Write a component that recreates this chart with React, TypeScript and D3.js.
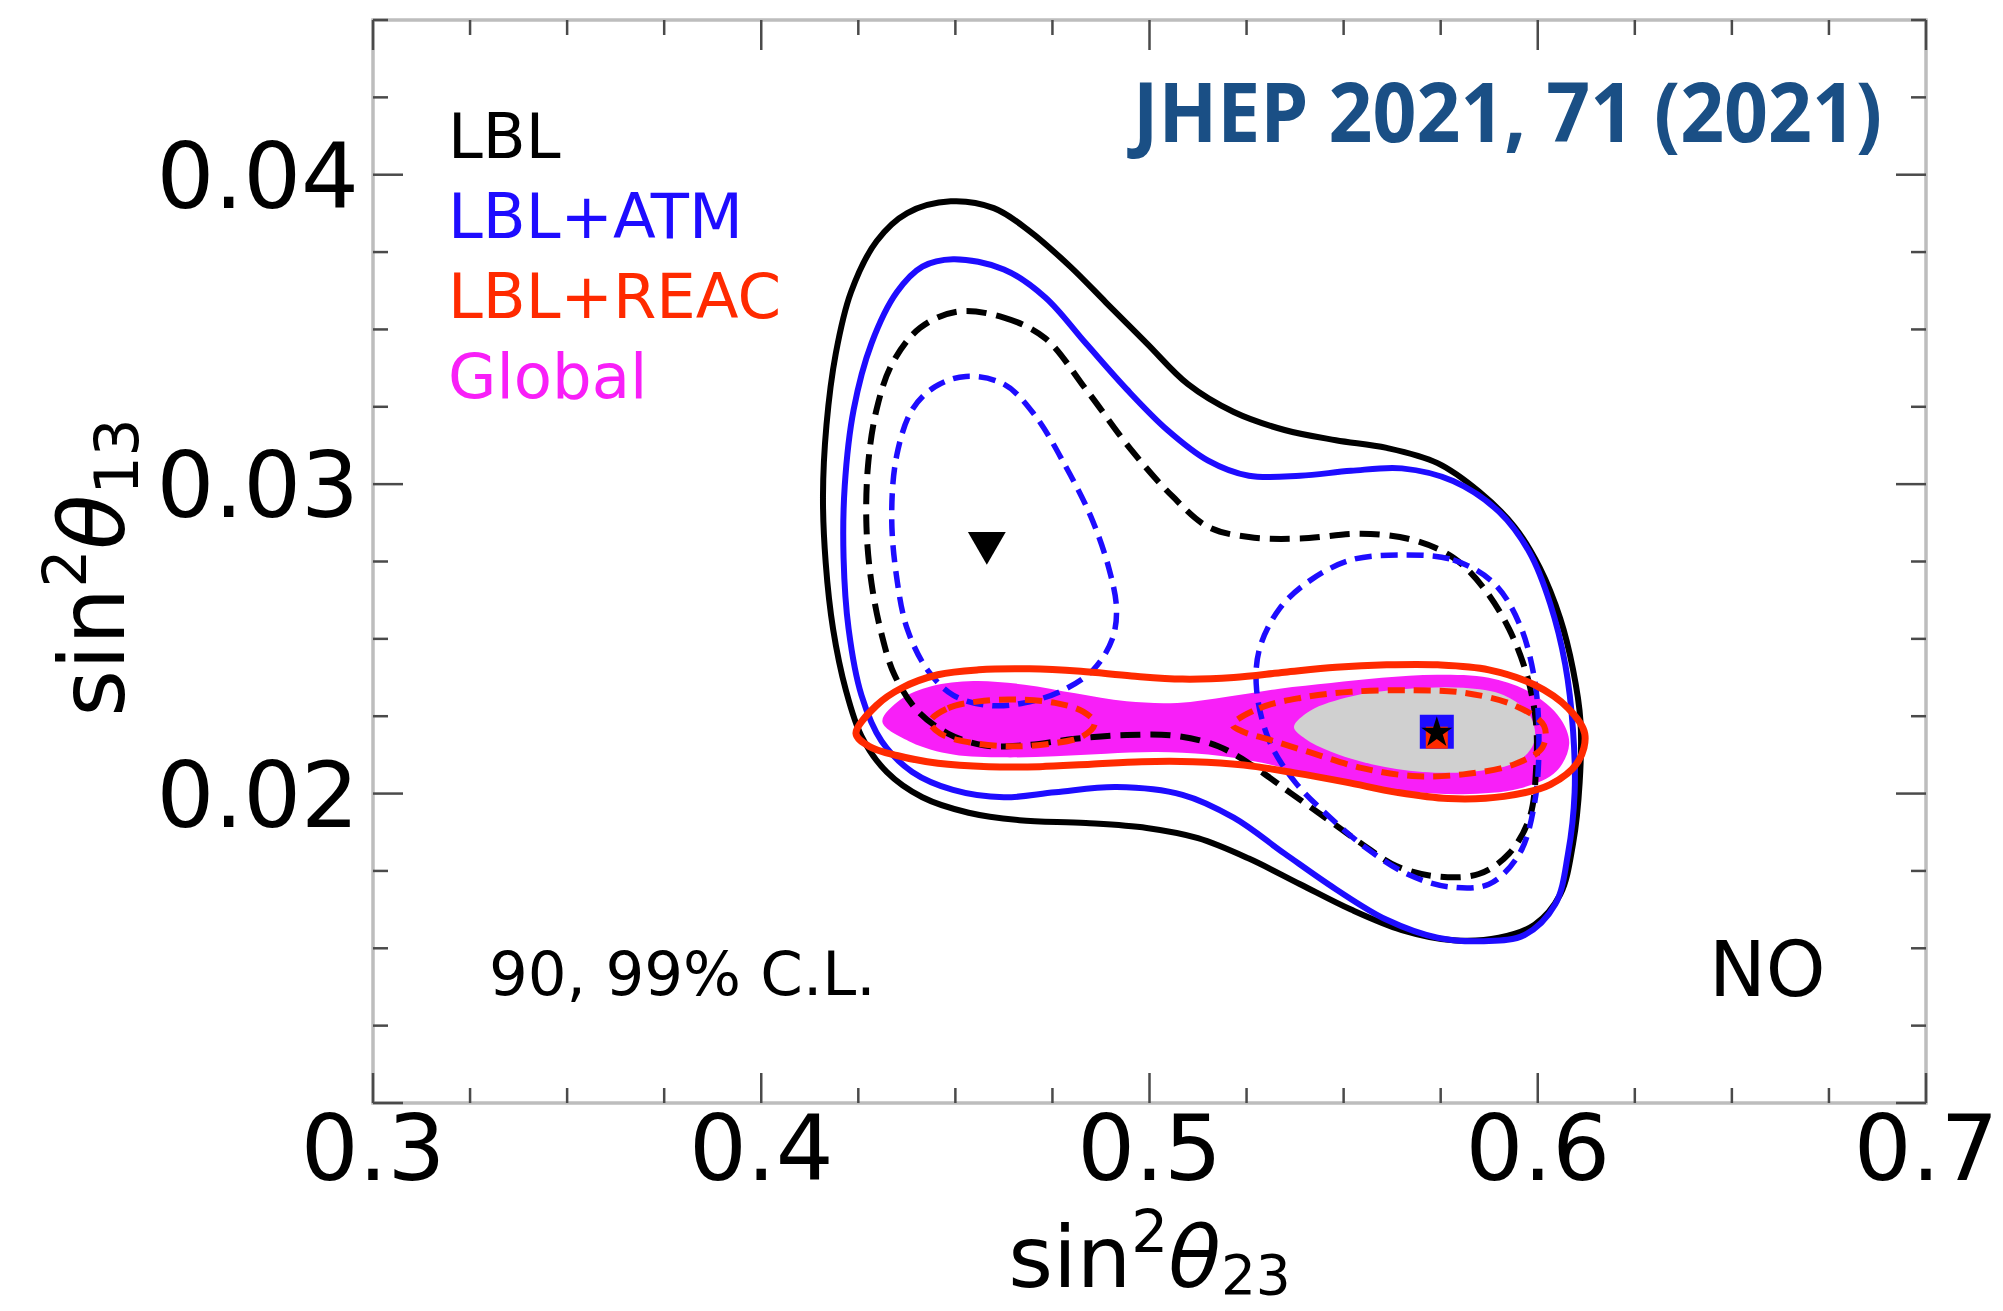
import React from 'react';
import * as d3 from 'd3';

type Pt = [number, number];

// Axis ranges and labelled ticks (sin^2 theta23 on x, sin^2 theta13 on y)
const xDomain: [number, number] = [0.3, 0.7];
const yDomain: [number, number] = [0.01, 0.045];
const xTickLabels = [0.3, 0.4, 0.5, 0.6, 0.7];
const yTickLabels = [0.02, 0.03, 0.04];
const yMajorTicks = [0.01, 0.02, 0.03, 0.04];

// LBL only, 99% C.L. (solid black)
const lbl99: Pt[] = [
  [0.4488, 0.03914], [0.4599, 0.03892], [0.4691, 0.03818], [0.4796, 0.03703], [0.4888, 0.03587],
  [0.4993, 0.03455], [0.5099, 0.03323], [0.5217, 0.03233], [0.5348, 0.03175], [0.548, 0.03142],
  [0.5611, 0.03117], [0.5742, 0.03068], [0.5848, 0.02977], [0.594, 0.02862], [0.6005, 0.0273],
  [0.6058, 0.02565], [0.6091, 0.024], [0.611, 0.02235], [0.6108, 0.02037], [0.6091, 0.01839],
  [0.6058, 0.01674], [0.5992, 0.01576], [0.59, 0.01534], [0.5782, 0.01526], [0.565, 0.01559],
  [0.5519, 0.01625], [0.5388, 0.01707], [0.5256, 0.0179], [0.5125, 0.01856], [0.4993, 0.01889],
  [0.4836, 0.01905], [0.4665, 0.01914], [0.4534, 0.01938], [0.4415, 0.01988], [0.4323, 0.0207],
  [0.4258, 0.02186], [0.4218, 0.02334], [0.4185, 0.02532], [0.4166, 0.02746], [0.4159, 0.02961],
  [0.4168, 0.03191], [0.4192, 0.03422], [0.4231, 0.0362], [0.4297, 0.03785], [0.4376, 0.03876],
];

// LBL only, 90% C.L. (dashed black)
const lbl90: Pt[] = [
  [0.4507, 0.03558], [0.4625, 0.03538], [0.4731, 0.03472], [0.4836, 0.03307], [0.4954, 0.03109],
  [0.5059, 0.02961], [0.5151, 0.02862], [0.5256, 0.02829], [0.5388, 0.02824], [0.5545, 0.0284],
  [0.5677, 0.0282], [0.5782, 0.02763], [0.5861, 0.02664], [0.5926, 0.02532], [0.5972, 0.02383],
  [0.5995, 0.02235], [0.5996, 0.02087], [0.5979, 0.01922], [0.5926, 0.01806], [0.5848, 0.0174],
  [0.5742, 0.01732], [0.5637, 0.01765], [0.5545, 0.01839], [0.5453, 0.01922], [0.5361, 0.02004],
  [0.5269, 0.02087], [0.5177, 0.02153], [0.5072, 0.02186], [0.4941, 0.02189], [0.4809, 0.02177],
  [0.4678, 0.02156], [0.4573, 0.02156], [0.4481, 0.02194], [0.4402, 0.02268], [0.4343, 0.02384],
  [0.431, 0.02515], [0.4284, 0.0268], [0.4271, 0.02862], [0.4275, 0.0306], [0.4297, 0.03241],
  [0.4337, 0.03389], [0.4409, 0.03505],
];

// LBL+ATM, 99% C.L. (solid blue)
const atm99: Pt[] = [
  [0.4494, 0.03727], [0.4625, 0.03694], [0.4731, 0.03604], [0.4836, 0.03455], [0.4941, 0.03307],
  [0.5046, 0.03175], [0.5151, 0.03076], [0.5256, 0.03027], [0.5388, 0.03027], [0.5519, 0.03043],
  [0.565, 0.03051], [0.5782, 0.0301], [0.59, 0.02911], [0.5979, 0.02779], [0.6032, 0.02614],
  [0.6071, 0.02416], [0.6091, 0.02202], [0.6095, 0.02004], [0.6078, 0.01806], [0.6045, 0.01642],
  [0.5966, 0.01543], [0.5861, 0.01523], [0.5742, 0.01534], [0.5611, 0.01592], [0.548, 0.01691],
  [0.5348, 0.01806], [0.5217, 0.01922], [0.5085, 0.01996], [0.4915, 0.02021], [0.4757, 0.02004],
  [0.4625, 0.01988], [0.4494, 0.02012], [0.4389, 0.0207], [0.431, 0.02169], [0.4258, 0.02318],
  [0.4225, 0.02532], [0.4212, 0.02763], [0.4215, 0.02994], [0.4238, 0.03241], [0.4284, 0.03455],
  [0.4349, 0.0362], [0.4415, 0.03703],
];

// LBL+ATM, 90% C.L. (dashed blue), lower octant island
const atm90Low: Pt[] = [
  [0.4527, 0.03348], [0.4625, 0.03323], [0.4704, 0.03224], [0.4783, 0.0306], [0.4849, 0.02895],
  [0.4895, 0.0273], [0.4915, 0.02598], [0.4904, 0.02499], [0.4855, 0.024], [0.4777, 0.02334],
  [0.4678, 0.02293], [0.4586, 0.02285], [0.4494, 0.02318], [0.4428, 0.024], [0.4376, 0.02532],
  [0.4349, 0.02697], [0.4336, 0.02895], [0.4349, 0.03093], [0.4389, 0.03241], [0.4448, 0.03315],
];

// LBL+ATM, 90% C.L. (dashed blue), upper octant island
const atm90High: Pt[] = [
  [0.565, 0.02771], [0.5782, 0.02755], [0.5887, 0.0268], [0.5953, 0.02548], [0.5992, 0.02367],
  [0.6003, 0.02169], [0.5992, 0.01971], [0.5953, 0.01806], [0.5874, 0.01707], [0.5769, 0.01699],
  [0.5664, 0.0174], [0.5559, 0.01823], [0.5466, 0.01922], [0.5375, 0.02037], [0.5309, 0.02169],
  [0.5276, 0.02334], [0.5283, 0.02466], [0.5335, 0.02598], [0.5414, 0.02689], [0.5519, 0.02755],
];

// LBL+REAC, 99% C.L. (solid red)
const reac99: Pt[] = [
  [0.4244, 0.02194], [0.4297, 0.02285], [0.4363, 0.02342], [0.4455, 0.02384], [0.456, 0.024],
  [0.4691, 0.02403], [0.4823, 0.02395], [0.4954, 0.0238], [0.5085, 0.0237], [0.5217, 0.02375],
  [0.5348, 0.02392], [0.548, 0.02408], [0.5611, 0.02416], [0.5742, 0.02416], [0.5874, 0.024],
  [0.5992, 0.02351], [0.6078, 0.02276], [0.6121, 0.02194], [0.6104, 0.02103], [0.6032, 0.02029],
  [0.5913, 0.01991], [0.5769, 0.01984], [0.5637, 0.02004], [0.5506, 0.02037], [0.5374, 0.02067],
  [0.5243, 0.02092], [0.5112, 0.02103], [0.498, 0.02103], [0.4849, 0.02095], [0.4717, 0.02087],
  [0.4586, 0.02087], [0.4455, 0.02098], [0.4349, 0.02123], [0.4277, 0.02153],
];

// LBL+REAC, 90% C.L. (dashed red), two islands
const reac90Low: Pt[] = [
  [0.4435, 0.02232], [0.4481, 0.02276], [0.456, 0.02298], [0.4652, 0.02304], [0.4757, 0.02293],
  [0.4829, 0.02265], [0.4859, 0.02227], [0.4829, 0.02186], [0.4744, 0.02161], [0.4639, 0.02153],
  [0.4534, 0.02166], [0.4461, 0.02194],
];
const reac90High: Pt[] = [
  [0.5214, 0.02222], [0.5283, 0.02276], [0.5388, 0.02309], [0.5519, 0.02329], [0.5677, 0.02334],
  [0.5808, 0.02326], [0.594, 0.02285], [0.6016, 0.02219], [0.6012, 0.02149], [0.594, 0.02095],
  [0.5808, 0.02062], [0.5677, 0.02057], [0.5545, 0.02083], [0.5414, 0.02133], [0.5309, 0.02174],
  [0.5237, 0.02202],
];

// Global fit, 99% C.L. (magenta region)
const global99: Pt[] = [
  [0.4312, 0.02232], [0.4358, 0.02303], [0.4438, 0.02347], [0.4547, 0.02364], [0.4678, 0.02352],
  [0.4809, 0.02324], [0.4941, 0.02298], [0.5072, 0.02293], [0.5204, 0.02314], [0.5335, 0.02339],
  [0.5467, 0.02357], [0.5598, 0.02374], [0.5742, 0.02384], [0.5874, 0.02374], [0.5979, 0.02328],
  [0.6058, 0.02243], [0.6081, 0.02161], [0.6048, 0.02072], [0.5953, 0.02016], [0.5808, 0.01998],
  [0.5677, 0.02006], [0.5545, 0.02029], [0.5414, 0.02062], [0.5283, 0.02101], [0.5151, 0.02126],
  [0.502, 0.02134], [0.4888, 0.02129], [0.4757, 0.02121], [0.4625, 0.02117], [0.4494, 0.02126],
  [0.4386, 0.02166],
];

// Global fit, 90% C.L. (grey region)
const global90: Pt[] = [
  [0.5372, 0.02215], [0.5414, 0.02268], [0.5519, 0.02314], [0.565, 0.02337], [0.5808, 0.02342],
  [0.5913, 0.02318], [0.5979, 0.02255], [0.5992, 0.02172], [0.5953, 0.02107], [0.5848, 0.02073],
  [0.5703, 0.0207], [0.5572, 0.02095], [0.5466, 0.02136], [0.5401, 0.02177],
];

// Best-fit points
const bestLBL: Pt = [0.4581, 0.0281];
const bestGlobal: Pt = [0.574, 0.022];

const legendItems = [
  { label: 'LBL', color: '#000000' },
  { label: 'LBL+ATM', color: '#1e0cff' },
  { label: 'LBL+REAC', color: '#ff2a00' },
  { label: 'Global', color: '#f81ff8' },
];

const W = 2003;
const H = 1311;
const plot = { left: 373, right: 1926, top: 20, bottom: 1103 };

const BLUE = '#1e0cff';
const RED = '#ff2a00';
const MAGENTA = '#f81ff8';
const GREY = '#d0d0d0';
const FRAME = '#bdbdbd';
const TICK = '#4a4a4a';
const FONT = "'DejaVu Sans', sans-serif";

export default function App() {
  const x = d3.scaleLinear().domain(xDomain).range([plot.left, plot.right]);
  const y = d3.scaleLinear().domain(yDomain).range([plot.bottom, plot.top]);

  const contour = d3
    .line<Pt>()
    .x((d) => x(d[0]))
    .y((d) => y(d[1]))
    .curve(d3.curveCatmullRomClosed.alpha(0.5));

  const xMinor = d3.range(0.3, 0.7001, 0.025).filter((v) => !xTickLabels.some((m) => Math.abs(m - v) < 1e-6));
  const yMinor = d3.range(0.01, 0.0451, 0.0025).filter((v) => !yMajorTicks.some((m) => Math.abs(m - v) < 1e-6));

  const majorLen = 30;
  const minorLen = 15;

  const tri = d3.symbol().type(d3.symbolTriangle).size(620)();
  const star = d3.symbol().type(d3.symbolStar).size(300)();
  const sq = d3.symbol().type(d3.symbolSquare).size(34 * 34)();
  const sqSmall = d3.symbol().type(d3.symbolSquare).size(22 * 22)();

  return (
    <svg
      width={W}
      height={H}
      viewBox={`0 0 ${W} ${H}`}
      style={{ position: 'absolute', left: 0, top: 0, background: '#ffffff' }}
    >
      <rect x={0} y={0} width={W} height={H} fill="#ffffff" />

      {/* confidence regions of the global fit */}
      <path d={contour(global99) ?? ''} fill={MAGENTA} stroke="none" />
      <path d={contour(global90) ?? ''} fill={GREY} stroke="none" />

      {/* LBL */}
      <path d={contour(lbl99) ?? ''} fill="none" stroke="#000" strokeWidth={6} />
      {/* LBL+ATM */}
      <path d={contour(atm99) ?? ''} fill="none" stroke={BLUE} strokeWidth={6} />
      <path d={contour(lbl90) ?? ''} fill="none" stroke="#000" strokeWidth={6} strokeDasharray="20 10" />
      <path d={contour(atm90Low) ?? ''} fill="none" stroke={BLUE} strokeWidth={5.5} strokeDasharray="17 9" />
      <path d={contour(atm90High) ?? ''} fill="none" stroke={BLUE} strokeWidth={5.5} strokeDasharray="17 9" />
      {/* LBL+REAC */}
      <path d={contour(reac99) ?? ''} fill="none" stroke={RED} strokeWidth={7} />
      <path d={contour(reac90Low) ?? ''} fill="none" stroke={RED} strokeWidth={6} strokeDasharray="17 9" />
      <path d={contour(reac90High) ?? ''} fill="none" stroke={RED} strokeWidth={6} strokeDasharray="17 9" />

      {/* best-fit markers */}
      <path d={tri ?? ''} transform={`translate(${x(bestLBL[0])},${y(bestLBL[1])}) rotate(180)`} fill="#000" />
      <path d={sq ?? ''} transform={`translate(${x(bestGlobal[0])},${y(bestGlobal[1])})`} fill={BLUE} />
      <path d={sqSmall ?? ''} transform={`translate(${x(bestGlobal[0])},${y(bestGlobal[1]) + 6})`} fill={RED} />
      <path d={star ?? ''} transform={`translate(${x(bestGlobal[0])},${y(bestGlobal[1]) + 1})`} fill="#000" />

      {/* frame */}
      <rect
        x={plot.left}
        y={plot.top}
        width={plot.right - plot.left}
        height={plot.bottom - plot.top}
        fill="none"
        stroke={FRAME}
        strokeWidth={3.5}
      />

      {/* x ticks, bottom and top, pointing inward */}
      {xTickLabels.map((v) => (
        <g key={`xM${v}`} stroke={TICK} strokeWidth={2.5}>
          <line x1={x(v)} x2={x(v)} y1={plot.bottom} y2={plot.bottom - majorLen} />
          <line x1={x(v)} x2={x(v)} y1={plot.top} y2={plot.top + majorLen} />
        </g>
      ))}
      {xMinor.map((v) => (
        <g key={`xm${v}`} stroke={TICK} strokeWidth={2.5}>
          <line x1={x(v)} x2={x(v)} y1={plot.bottom} y2={plot.bottom - minorLen} />
          <line x1={x(v)} x2={x(v)} y1={plot.top} y2={plot.top + minorLen} />
        </g>
      ))}
      {/* y ticks, left and right, pointing inward */}
      {yMajorTicks.map((v) => (
        <g key={`yM${v}`} stroke={TICK} strokeWidth={2.5}>
          <line x1={plot.left} x2={plot.left + majorLen} y1={y(v)} y2={y(v)} />
          <line x1={plot.right} x2={plot.right - majorLen} y1={y(v)} y2={y(v)} />
        </g>
      ))}
      {yMinor.map((v) => (
        <g key={`ym${v}`} stroke={TICK} strokeWidth={2.5}>
          <line x1={plot.left} x2={plot.left + minorLen} y1={y(v)} y2={y(v)} />
          <line x1={plot.right} x2={plot.right - minorLen} y1={y(v)} y2={y(v)} />
        </g>
      ))}

      {/* tick labels */}
      {xTickLabels.map((v) => (
        <text key={`xl${v}`} x={x(v)} y={1180} textAnchor="middle" fontFamily={FONT} fontSize={91} fill="#000">
          {d3.format('.1f')(v)}
        </text>
      ))}
      {yTickLabels.map((v) => (
        <text key={`yl${v}`} x={359} y={y(v) + 33} textAnchor="end" fontFamily={FONT} fontSize={91} fill="#000">
          {d3.format('.2f')(v)}
        </text>
      ))}

      {/* axis titles */}
      <text x={(plot.left + plot.right) / 2} y={1287} textAnchor="middle" fontFamily={FONT} fontSize={86} fill="#000">
        <tspan>sin</tspan>
        <tspan fontSize={58} dy={-35}>2</tspan>
        <tspan fontStyle="italic" dy={35}>θ</tspan>
        <tspan fontSize={55} dy={7}>23</tspan>
      </text>
      <text
        transform={`translate(124,${(plot.top + plot.bottom) / 2 + 6}) rotate(-90)`}
        textAnchor="middle"
        fontFamily={FONT}
        fontSize={90}
        fill="#000"
      >
        <tspan>sin</tspan>
        <tspan fontSize={60} dy={-38}>2</tspan>
        <tspan fontStyle="italic" dy={38}>θ</tspan>
        <tspan fontSize={60} dy={14}>13</tspan>
      </text>

      {/* legend */}
      {legendItems.map((it, i) => (
        <text key={it.label} x={448} y={158 + i * 80} fontFamily={FONT} fontSize={62.5} fill={it.color}>
          {it.label}
        </text>
      ))}

      <text x={489} y={995} fontFamily={FONT} fontSize={61} fill="#000">
        90, 99% C.L.
      </text>
      <text x={1709} y={996} fontFamily={FONT} fontSize={76} fill="#000">
        NO
      </text>

      <text
        x={1133}
        y={142}
        fontFamily="'Open Sans', sans-serif"
        fontWeight={700}
        fontSize={83}
        fill="#1a4f85"
        textLength={749}
        lengthAdjust="spacingAndGlyphs"
      >
        JHEP 2021, 71 (2021)
      </text>
    </svg>
  );
}
